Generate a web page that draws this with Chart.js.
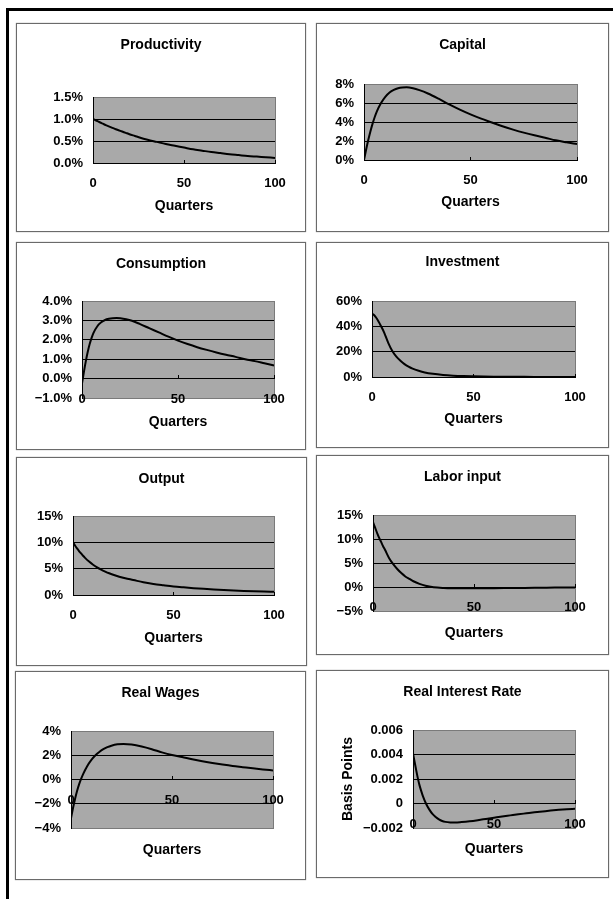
<!DOCTYPE html>
<html>
<head>
<meta charset="utf-8">
<script src="https://cdn.jsdelivr.net/npm/chart.js@4.4.1/dist/chart.umd.min.js"></script>
<style>
  html, body { margin: 0; padding: 0; width: 613px; height: 899px; overflow: hidden; background: #fff; }
  #sheet { position: absolute; left: 6px; top: 8px; width: 700px; height: 1000px; border: 3px solid #000; box-sizing: border-box; }
  .panel { position: absolute; }
  .panel canvas { position: absolute; left: 0; top: 0; }
  .frame { position: absolute; left: 0; top: 0; right: 0; bottom: 0; border: 1px solid #6a6a6a; box-shadow: 0 0 1px #888; pointer-events: none; }
</style>
</head>
<body>
<div id="sheet"></div>
<script>
// Quarters after the shock at which each response is listed
const quarters = [0, 1, 2, 3, 4, 5, 6, 8, 10, 12, 14, 16, 18, 20, 23, 26, 30, 35, 40, 45, 50, 55, 60, 65, 70, 75, 80, 85, 90, 95, 100];

// Impulse responses (percent deviation, except the real interest rate)
const productivity = [1.00, 0.98, 0.96, 0.94, 0.92, 0.90, 0.88, 0.845, 0.81, 0.775, 0.745, 0.715, 0.685, 0.655, 0.615, 0.575, 0.53, 0.48, 0.43, 0.39, 0.35, 0.31, 0.28, 0.25, 0.225, 0.20, 0.18, 0.16, 0.145, 0.13, 0.115];
const capital = [0, 1.1, 2.1, 3.0, 3.8, 4.5, 5.1, 6.0, 6.65, 7.1, 7.38, 7.55, 7.63, 7.65, 7.55, 7.35, 7.0, 6.45, 5.85, 5.3, 4.8, 4.35, 3.95, 3.55, 3.2, 2.88, 2.6, 2.35, 2.07, 1.86, 1.68];
const consumption = [-0.25, 0.35, 0.9, 1.38, 1.78, 2.1, 2.36, 2.7, 2.9, 3.02, 3.08, 3.11, 3.12, 3.11, 3.06, 2.98, 2.82, 2.6, 2.38, 2.16, 1.96, 1.78, 1.62, 1.48, 1.35, 1.23, 1.12, 1.0, 0.9, 0.79, 0.68];
const investment = [50, 49, 47, 44.5, 41.5, 38.5, 35, 27, 20.5, 16, 12.8, 10.2, 8.2, 6.6, 4.9, 3.6, 2.5, 1.6, 1.05, 0.7, 0.5, 0.35, 0.25, 0.18, 0.13, 0.1, 0.08, 0.06, 0.05, 0.04, 0.03];
const output = [10, 9.4, 8.85, 8.35, 7.9, 7.45, 7.05, 6.35, 5.75, 5.25, 4.82, 4.45, 4.12, 3.84, 3.48, 3.18, 2.85, 2.42, 2.1, 1.85, 1.62, 1.45, 1.3, 1.17, 1.05, 0.95, 0.86, 0.78, 0.71, 0.65, 0.6];
const laborInput = [13.5, 12.4, 11.3, 10.3, 9.4, 8.5, 7.7, 6.0, 4.75, 3.75, 2.9, 2.2, 1.7, 1.2, 0.65, 0.25, -0.05, -0.2, -0.26, -0.28, -0.28, -0.27, -0.25, -0.23, -0.21, -0.19, -0.17, -0.15, -0.13, -0.12, -0.1];
const realWages = [-3.2, -2.35, -1.6, -0.95, -0.4, 0.05, 0.45, 1.1, 1.6, 1.98, 2.27, 2.5, 2.67, 2.79, 2.9, 2.93, 2.88, 2.72, 2.5, 2.24, 2.02, 1.85, 1.67, 1.51, 1.37, 1.24, 1.12, 1.02, 0.92, 0.83, 0.75];
const realInterestRate = [0.0041, 0.0034, 0.0027, 0.00205, 0.0015, 0.00105, 0.00065, 0.0, -0.00048, -0.00085, -0.0011, -0.0013, -0.00143, -0.0015, -0.00155, -0.00156, -0.00152, -0.00145, -0.00136, -0.00126, -0.00116, -0.00106, -0.00097, -0.00088, -0.0008, -0.00072, -0.00065, -0.00058, -0.00052, -0.00047, -0.00043];

// Horizontal axis ticks
const xTicks = [0, 50, 100];
const xLabels = ['0', '50', '100'];

// Vertical axis ticks and their labels
const ticksProductivity = [0, 0.5, 1.0, 1.5];
const labelsProductivity = ['0.0%', '0.5%', '1.0%', '1.5%'];
const ticksCapital = [0, 2, 4, 6, 8];
const labelsCapital = ['0%', '2%', '4%', '6%', '8%'];
const ticksConsumption = [-1, 0, 1, 2, 3, 4];
const labelsConsumption = ['\u22121.0%', '0.0%', '1.0%', '2.0%', '3.0%', '4.0%'];
const ticksInvestment = [0, 20, 40, 60];
const labelsInvestment = ['0%', '20%', '40%', '60%'];
const ticksOutput = [0, 5, 10, 15];
const labelsOutput = ['0%', '5%', '10%', '15%'];
const ticksLabor = [-5, 0, 5, 10, 15];
const labelsLabor = ['\u22125%', '0%', '5%', '10%', '15%'];
const ticksWages = [-4, -2, 0, 2, 4];
const labelsWages = ['\u22124%', '\u22122%', '0%', '2%', '4%'];
const ticksInterest = [-0.002, 0, 0.002, 0.004, 0.006];
const labelsInterest = ['\u22120.002', '0', '0.002', '0.004', '0.006'];

// Panel layout: box = page rectangle of the panel, plot = plot area inside the panel
const panels = [
  { title: 'Productivity', values: productivity, yTicks: ticksProductivity, yLabels: labelsProductivity,
    box: [16, 23, 306, 232], plot: [77, 74, 259, 140], titleY: 22, quartersY: 183 },
  { title: 'Capital', values: capital, yTicks: ticksCapital, yLabels: labelsCapital,
    box: [316, 23, 609, 232], plot: [48, 61, 261, 137], titleY: 22, quartersY: 179 },
  { title: 'Consumption', values: consumption, yTicks: ticksConsumption, yLabels: labelsConsumption,
    box: [16, 242, 306, 450], plot: [66, 59, 258, 156], titleY: 22, quartersY: 180 },
  { title: 'Investment', values: investment, yTicks: ticksInvestment, yLabels: labelsInvestment,
    box: [316, 242, 609, 448], plot: [56, 59, 259, 135], titleY: 20, quartersY: 177 },
  { title: 'Output', values: output, yTicks: ticksOutput, yLabels: labelsOutput,
    box: [16, 457, 307, 666], plot: [57, 59, 258, 138], titleY: 22, quartersY: 181 },
  { title: 'Labor input', values: laborInput, yTicks: ticksLabor, yLabels: labelsLabor,
    box: [316, 455, 609, 655], plot: [57, 60, 259, 156], titleY: 22, quartersY: 178 },
  { title: 'Real Wages', values: realWages, yTicks: ticksWages, yLabels: labelsWages,
    box: [15, 671, 306, 880], plot: [56, 60, 258, 157], titleY: 22, quartersY: 179 },
  { title: 'Real Interest Rate', values: realInterestRate, yTicks: ticksInterest, yLabels: labelsInterest,
    box: [316, 670, 609, 878], plot: [97, 60, 259, 158], titleY: 22, quartersY: 179,
    yTitle: 'Basis Points', yTitleX: 32 }
];

Chart.defaults.font.family = "'Liberation Sans', Arial, sans-serif";
Chart.defaults.color = '#000';

const TITLE_SIZE = 14, AXIS_TITLE_SIZE = 14, TICK_SIZE = 13, LH = 1.2;

// Grey plot area with a thin border, painted beneath the axes
const plotFrame = {
  id: 'plotFrame',
  beforeDraw(chart) {
    const { ctx, chartArea: a } = chart;
    ctx.save();
    ctx.fillStyle = '#a9a9a9';
    ctx.fillRect(a.left, a.top, a.right - a.left, a.bottom - a.top);
    ctx.strokeStyle = '#7a7a7a';
    ctx.lineWidth = 1;
    ctx.strokeRect(Math.round(a.left) + 0.5, Math.round(a.top) + 0.5,
                   Math.round(a.right - a.left), Math.round(a.bottom - a.top));
    ctx.restore();
  }
};

panels.forEach(p => {
  const [L, T, R, B] = p.box;
  const W = R - L, H = B - T;
  const [pl, pt, pr, pb] = p.plot;

  const wrap = document.createElement('div');
  wrap.className = 'panel';
  Object.assign(wrap.style, { left: L + 'px', top: T + 'px', width: W + 'px', height: H + 'px' });
  const cv = document.createElement('canvas');
  cv.width = W; cv.height = H;
  cv.style.width = W + 'px'; cv.style.height = H + 'px';
  const frame = document.createElement('div');
  frame.className = 'frame';
  wrap.appendChild(cv);
  wrap.appendChild(frame);
  document.body.appendChild(wrap);

  const yt = p.yTicks, yl = p.yLabels, last = yt.length - 1;

  new Chart(cv, {
    type: 'line',
    data: {
      datasets: [{
        data: quarters.map((q, i) => ({ x: q, y: p.values[i] })),
        borderColor: '#000',
        borderWidth: 2,
        pointRadius: 0,
        fill: false,
        cubicInterpolationMode: 'monotone',
        xAxisID: 'x',
        yAxisID: 'y'
      }]
    },
    options: {
      responsive: false,
      animation: false,
      devicePixelRatio: 1,
      events: [],
      layout: { padding: 0 },
      plugins: {
        legend: { display: false },
        tooltip: { enabled: false },
        title: {
          display: true,
          text: p.title,
          color: '#000',
          font: { size: TITLE_SIZE, weight: 'bold', lineHeight: LH },
          padding: { top: p.titleY - TITLE_SIZE * LH / 2, bottom: pt - p.titleY - TITLE_SIZE * LH / 2 }
        }
      },
      scales: {
        x: {
          type: 'linear',
          position: { y: 0 },
          min: 0, max: 100,
          afterBuildTicks: s => { s.ticks = xTicks.map(v => ({ value: v })); },
          ticks: {
            callback: (v, i) => xLabels[i],
            font: { size: TICK_SIZE, weight: 'bold' },
            color: '#000',
            padding: 17,
            maxRotation: 0,
            autoSkip: false
          },
          grid: { display: true, drawOnChartArea: false, drawTicks: true, tickLength: -4, color: '#000' },
          border: { display: true, color: '#000', width: 1 }
        },
        q: {
          type: 'linear',
          position: 'bottom',
          min: 0, max: 100,
          ticks: { display: false },
          grid: { display: false },
          border: { display: false },
          title: {
            display: true,
            text: 'Quarters',
            color: '#000',
            font: { size: AXIS_TITLE_SIZE, weight: 'bold', lineHeight: LH },
            padding: { top: 0, bottom: H - p.quartersY - AXIS_TITLE_SIZE * LH / 2 }
          },
          afterFit: s => { s.height = H - pb; }
        },
        y: {
          type: 'linear',
          position: 'left',
          min: yt[0], max: yt[last],
          afterBuildTicks: s => { s.ticks = yt.map(v => ({ value: v })); },
          ticks: {
            callback: (v, i) => yl[i],
            font: { size: TICK_SIZE, weight: 'bold' },
            color: '#000',
            padding: 10
          },
          grid: {
            drawTicks: false,
            lineWidth: 1,
            color: c => (c.index === 0 || c.index === last) ? 'rgba(0,0,0,0)' : '#000'
          },
          border: { display: true, color: '#000', width: 1 },
          title: p.yTitle ? {
            display: true,
            text: p.yTitle,
            color: '#000',
            font: { size: AXIS_TITLE_SIZE, weight: 'bold', lineHeight: LH },
            padding: { top: p.yTitleX - AXIS_TITLE_SIZE * LH / 2, bottom: 0 }
          } : { display: false },
          afterFit: s => { s.width = pl; }
        },
        yr: {
          type: 'linear',
          position: 'right',
          ticks: { display: false },
          grid: { display: false },
          border: { display: false },
          afterFit: s => { s.width = W - pr; }
        }
      }
    },
    plugins: [plotFrame]
  });
});
</script>
</body>
</html>
